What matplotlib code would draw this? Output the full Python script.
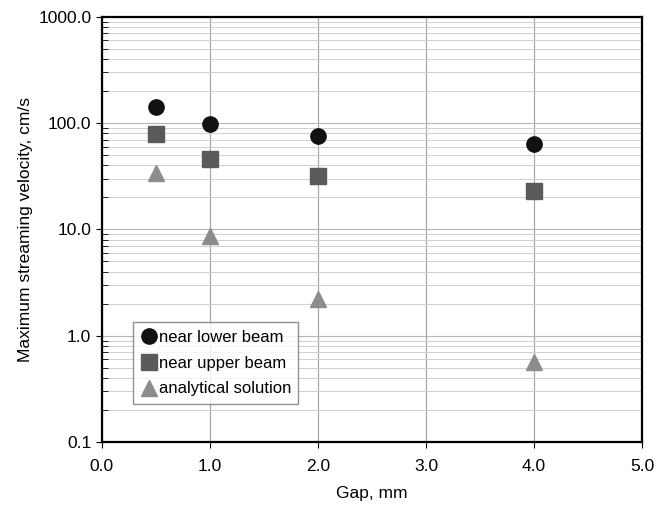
import matplotlib
matplotlib.use('Agg')
import matplotlib.pyplot as plt
from matplotlib.ticker import LogLocator, FuncFormatter, NullFormatter

plt.rcParams['font.family'] = ['Liberation Sans', 'DejaVu Sans']

# streaming velocity vs gap
gap = [0.5, 1.0, 2.0, 4.0]
lower_beam = [142, 98, 75, 64]
upper_beam = [79, 46, 32, 23]
analytical = [34, 8.7, 2.2, 0.57]

fig = plt.figure(figsize=(6.69, 5.08), dpi=100)
ax = fig.add_axes([0.152, 0.130, 0.808, 0.837])

ax.plot(gap, lower_beam, 'o', color='#111111', markersize=11, label='near lower beam', zorder=3)
ax.plot(gap, upper_beam, 's', color='#5a5a5a', markersize=11, label='near upper beam', zorder=3)
ax.plot(gap, analytical, '^', color='#8c8c8c', markersize=11, label='analytical solution', zorder=3)

ax.set_yscale('log')
ax.set_ylim(0.1, 1000)
ax.set_xlim(0, 5)
ax.set_xticks([0, 1, 2, 3, 4, 5])
ax.xaxis.set_major_formatter(FuncFormatter(lambda v, p: f'{v:.1f}'))
ax.yaxis.set_major_locator(LogLocator(base=10))
ax.yaxis.set_minor_locator(LogLocator(base=10, subs=range(2, 10)))
ax.yaxis.set_major_formatter(FuncFormatter(lambda v, p: f'{v:.1f}'))
ax.yaxis.set_minor_formatter(NullFormatter())

ax.grid(axis='x', which='major', color='#a8a8a8', linewidth=0.9)
ax.grid(axis='y', which='major', color='#b5b5b5', linewidth=0.8)
ax.grid(axis='y', which='minor', color='#cfcfcf', linewidth=0.7)

ax.tick_params(axis='both', which='major', labelsize=12.5, direction='out', length=4)
ax.tick_params(axis='y', which='minor', direction='in', length=4)
ax.tick_params(axis='x', which='major', pad=8)

for s in ax.spines.values():
    s.set_linewidth(1.6)

ax.set_xlabel('Gap, mm', fontsize=12.5, labelpad=9)
ax.set_ylabel('Maximum streaming velocity, cm/s', fontsize=12.5, labelpad=4)

leg = ax.legend(loc='lower left', bbox_to_anchor=(0.042, 0.07), fontsize=12,
                frameon=True, fancybox=False, handletextpad=0.1,
                handlelength=1.0, borderpad=0.45, labelspacing=0.65)
leg.get_frame().set_edgecolor('#777777')
leg.get_frame().set_linewidth(1.0)

fig.savefig('out.png', dpi=100)
